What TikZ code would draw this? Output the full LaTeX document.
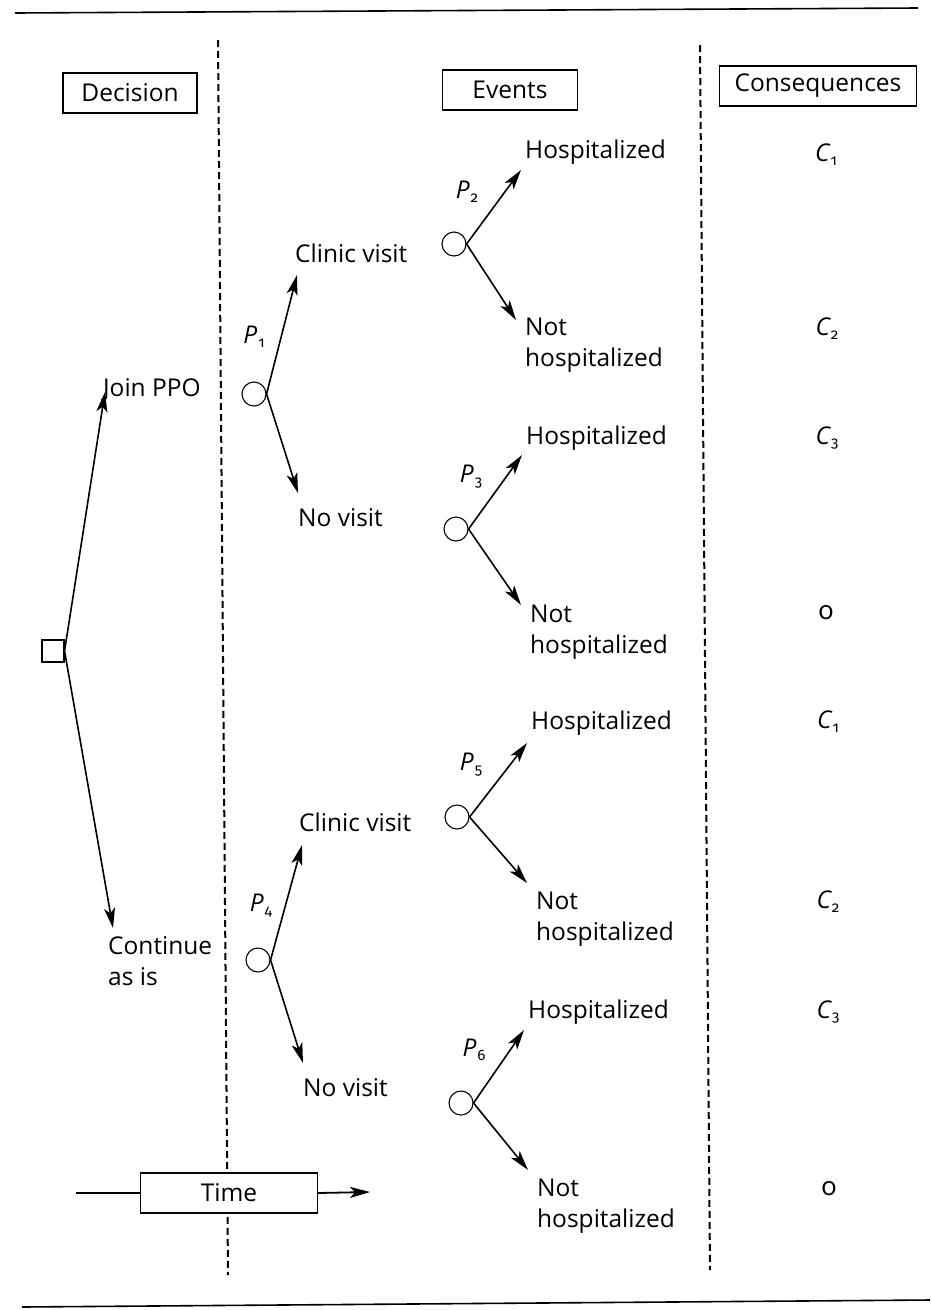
\documentclass[tikz,border=0pt]{standalone}
\usepackage{fontspec}
\setmainfont{Open Sans}
\newfontfamily\oldnum[Numbers=OldStyle]{Fira Sans}
\usetikzlibrary{arrows.meta}
\newcommand{\subfig}[1]{\raisebox{-0.3ex}{\fontsize{15}{15}\selectfont\oldnum #1}}
\newcommand{\prob}[1]{{\itshape P}\kern1pt\subfig{#1}}
\newcommand{\cons}[1]{{\itshape C}\kern1pt\subfig{#1}}
\begin{document}
\begin{tikzpicture}[x=1pt,y=-1pt,
  every node/.style={font=\fontsize{24.5}{31}\selectfont},
  lbl/.style={anchor=west, inner sep=0pt, align=left},
  hdr/.style={draw, fill=white, line width=1.3pt, minimum height=40pt, inner xsep=8pt},
  chance/.style={draw, circle, line width=1.1pt, minimum size=24pt, inner sep=0pt},
  decsq/.style={draw, rectangle, line width=1.1pt, minimum size=22pt, inner sep=0pt},
  arr/.style={line width=1.6pt, -{Stealth[length=20pt,width=11pt,inset=5pt]}},
  sep/.style={line width=2pt, dash pattern=on 7pt off 4pt},
  rule/.style={line width=1.6pt}]
\useasboundingbox (0,0) rectangle (930,1310);

% page rules and column separators
\draw[rule] (15,13) -- (918,8);
\draw[rule] (22,1307) -- (930,1300);
\draw[sep] (218,40) -- (228,1275);
\draw[sep] (700,45) -- (710,1270);

% column headers
\node[hdr, minimum width=134pt] (hdec) at (130,93) {Decision};
\node[hdr, minimum width=135pt] (hev) at (510,90) {Events};
\node[hdr, minimum width=197pt] (hcon) at (818,86) {Consequences};

% decision node
\node[decsq] (d) at (53,651) {};
\coordinate (jt) at (105,392);
\coordinate (ct) at (113,928);
\node[lbl] (join) at (103,390) {Join PPO};
\node[lbl] (cont) at (108,961) {Continue\\as is};
\draw[arr] (d.east) -- (jt);
\draw[arr] (d.east) -- (ct);

% first-level chance nodes
\node[chance] (c1) at (254,394) {};
\node[chance] (c4) at (258,960) {};
\node[lbl] (cv1) at (295,253) {Clinic visit};
\node[lbl] (nv1) at (298,518) {No visit};
\node[lbl] (cv2) at (299,822) {Clinic visit};
\node[lbl] (nv2) at (303,1088) {No visit};
\coordinate (cv1t) at (297,275);
\coordinate (nv1t) at (298,493);
\coordinate (cv2t) at (302,845);
\coordinate (nv2t) at (303,1063);
\draw[arr] (c1.east) -- (cv1t);
\draw[arr] (c1.east) -- (nv1t);
\draw[arr] (c4.east) -- (cv2t);
\draw[arr] (c4.east) -- (nv2t);
\node (p1) at (254,337) {\prob{1}};
\node (p4) at (261,906) {\prob{4}};

% second-level chance nodes
\foreach \n/\x/\y/\hx/\hy/\nx/\ny/\lh/\ln/\px/\py in {
  2/454/244/521/170/516/320/152/345/467/192,
  3/456/529/522/455/521/605/438/632/471/477,
  5/457/817/527/743/527/883/723/919/471/765,
  6/461/1103/524/1030/528/1170/1012/1206/474/1050}{
  \node[chance] (e\n) at (\x,\y) {};
  \coordinate (h\n) at (\hx,\hy);
  \coordinate (n\n) at (\nx,\ny);
  \draw[arr] (e\n.east) -- (h\n);
  \draw[arr] (e\n.east) -- (n\n);
  \node[lbl] (hl\n) at (\hx+4,\lh) {Hospitalized};
  \node[lbl] (nl\n) at (\nx+9,\ln) {Not\\hospitalized};
  \node (pl\n) at (\px,\py) {\prob{\n}};
}

% consequences
\node (k1) at (826,155) {\cons{1}};
\node (k2) at (827,329) {\cons{2}};
\node (k3) at (827,438) {\cons{3}};
\node (k4) at (826,613) {\oldnum 0};
\node (k5) at (828,722) {\cons{1}};
\node (k6) at (828,902) {\cons{2}};
\node (k7) at (828,1012) {\cons{3}};
\node (k8) at (829,1189) {\oldnum 0};

% time axis, boxed label sits over the separator
\node[hdr, minimum width=177pt, minimum height=40pt] (time) at (229,1193) {Time};
\coordinate (t0) at (76,1193);
\coordinate (t1) at (370,1192);
\draw[line width=1.6pt] (t0) -- (time.west);
\draw[arr, line width=1.8pt] (time.east) -- (t1);
\end{tikzpicture}
\end{document}
